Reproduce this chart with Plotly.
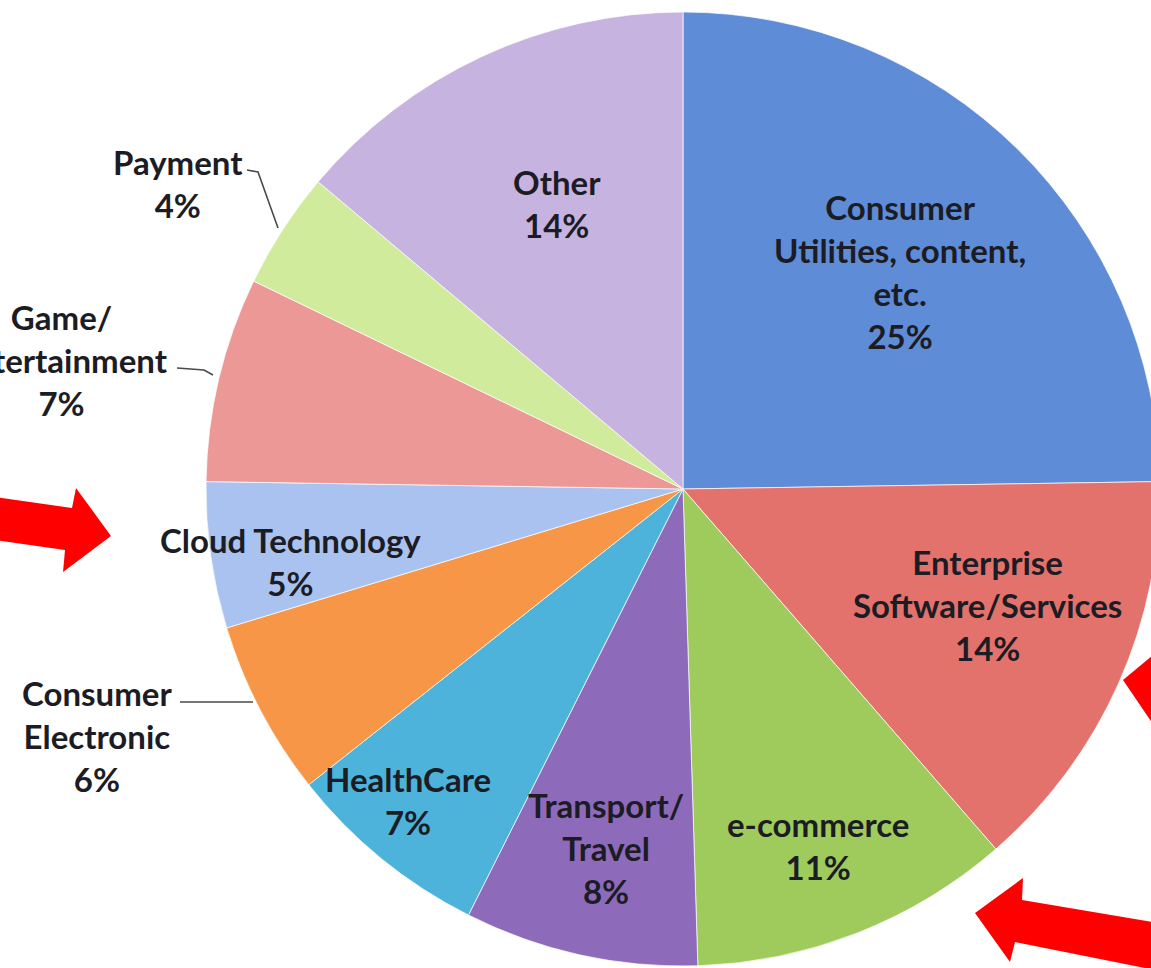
import plotly.graph_objects as go

# ---- data ----
categories = [
    "Consumer<br>Utilities, content,<br>etc.",
    "Enterprise<br>Software/Services",
    "e-commerce",
    "Transport/<br>Travel",
    "HealthCare",
    "Consumer<br>Electronic",
    "Cloud Technology",
    "Game/<br>Entertainment",
    "Payment",
    "Other",
]
shares = [25, 14, 11, 8, 7, 6, 5, 7, 4, 14]

# ---- style ----
colors = ["#5f8cd6", "#e3726c", "#9fcb5d", "#8e6aba", "#4db3da",
          "#f79646", "#a9c2ef", "#eb9896", "#d1eb9c", "#c7b3e0"]

# figure is a little wider than the 1151px window so the pie runs off the right edge
W, H = 1161, 968
FONT = "Lato"
TXT = "#1c1c24"

# label centres (pixels)
label_pos = [
    (900, 272), (987, 605), (818, 845), (606, 848), (408, 800),
    (97, 736), (290, 561), (62, 360), (178, 183), (557, 203),
]


def px(x):
    return x / W


def py(y):
    return 1 - y / H


fig = go.Figure(go.Pie(
    labels=[c.replace("<br>", " ") for c in categories],
    values=shares,
    sort=False,
    direction="clockwise",
    rotation=0,
    textinfo="none",
    marker=dict(colors=colors, line=dict(color="rgba(255,255,255,0.7)", width=1)),
    domain=dict(x=[px(205), 1.0], y=[py(966), py(12)]),
    showlegend=False,
))

annotations = []
for cat, val, (x, y) in zip(categories, shares, label_pos):
    annotations.append(dict(
        x=px(x), y=py(y), xref="paper", yref="paper",
        text=f"<b>{cat}<br>{val}%</b>", showarrow=False,
        xanchor="center", yanchor="middle", align="center",
        font=dict(family=FONT, size=33, color=TXT),
    ))

shapes = []
# leader lines
leaders = [
    [(247, 170), (258, 172), (278, 228)],
    [(177, 368), (204, 370), (213, 375)],
    [(180, 702), (253, 702)],
]
for pts in leaders:
    d = "M " + " L ".join(f"{px(a)},{py(b)}" for a, b in pts)
    shapes.append(dict(type="path", path=d, xref="paper", yref="paper",
                       line=dict(color="#4a4a4a", width=1.6)))

# red arrows (decorations)
arrows = [
    [(-5, 497), (72, 508), (76, 488), (111, 536), (63, 572), (65, 550), (-5, 540)],
    [(1123, 680), (1165, 645), (1165, 742)],
    [(975, 913), (1023, 878), (1022, 900), (1165, 924), (1165, 972), (1015, 942), (1010, 962)],
]
for pts in arrows:
    d = "M " + " L ".join(f"{px(a)},{py(b)}" for a, b in pts) + " Z"
    shapes.append(dict(type="path", path=d, xref="paper", yref="paper",
                       fillcolor="#ff0000", line=dict(width=0)))

fig.update_layout(
    width=W, height=H,
    margin=dict(l=0, r=0, t=0, b=0),
    paper_bgcolor="white", plot_bgcolor="white",
    annotations=annotations, shapes=shapes,
)

fig.write_html(
    "out.html",
    config={"displayModeBar": False},
    post_script="document.body.style.margin='0';document.body.style.overflow='hidden';",
)
